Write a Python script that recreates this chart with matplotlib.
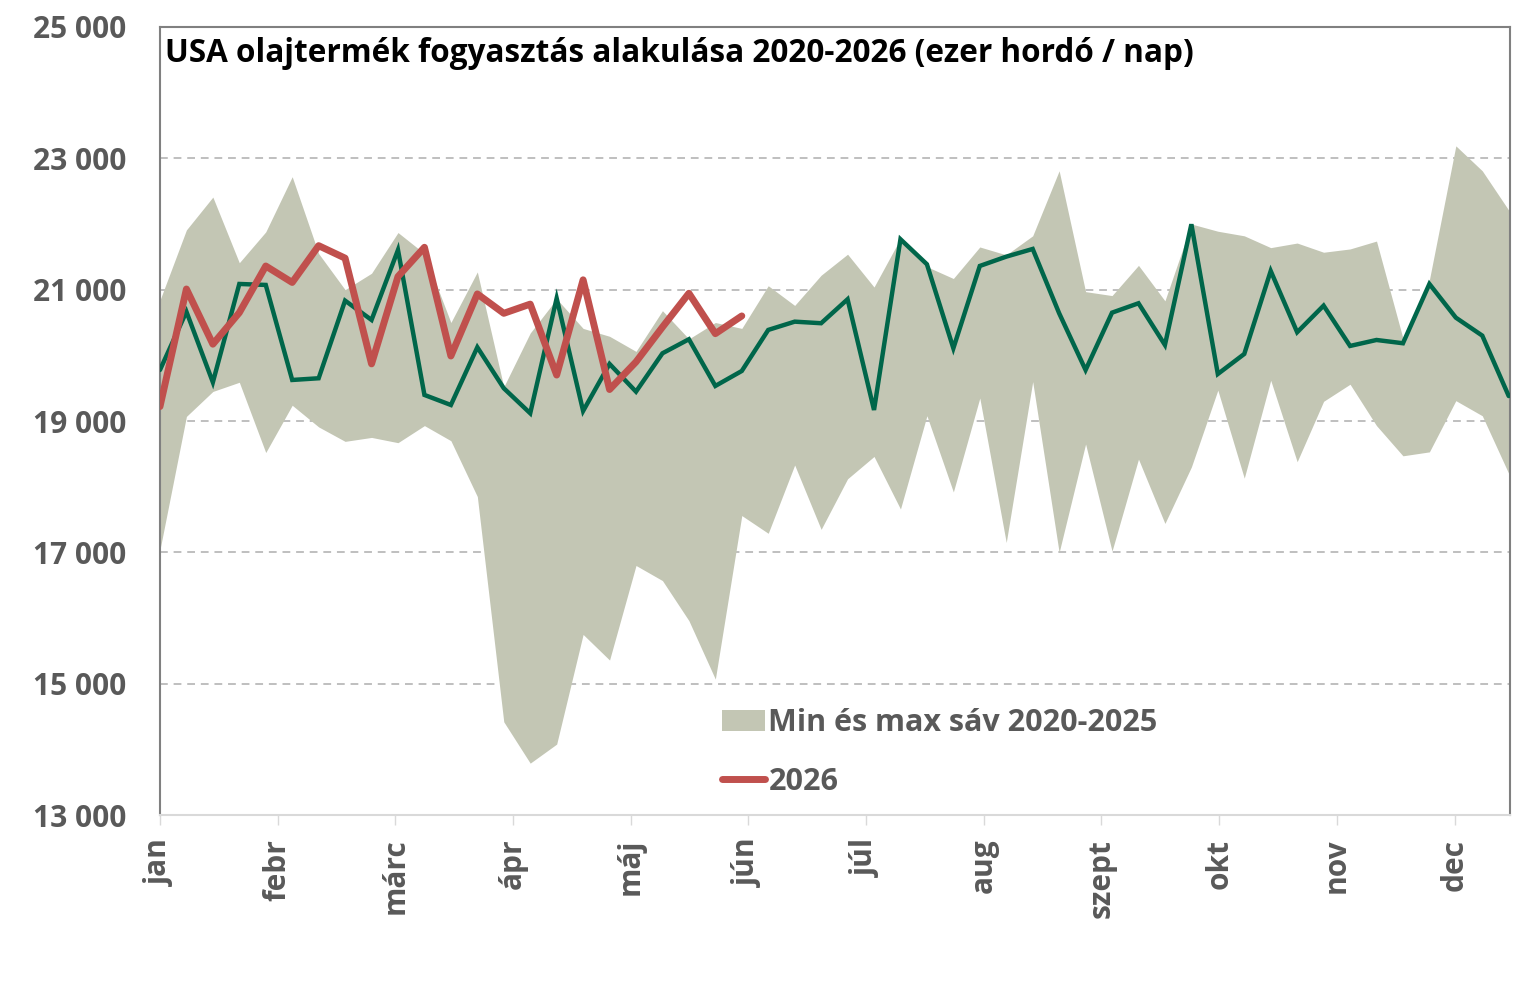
import numpy as np
import matplotlib
matplotlib.use("Agg")
import matplotlib.pyplot as plt
from matplotlib.patches import Patch
from matplotlib.lines import Line2D

plt.rcParams['font.family'] = ['Open Sans', 'DejaVu Sans']

# Heti adatok (ezer hordó / nap), 52 hét
band_max = [20840, 21910, 22410, 21410, 21880, 22720, 21550, 21000, 21250, 21870,
            21550, 20500, 21270, 19520, 20340, 20860, 20410, 20290, 20060, 20680,
            20250, 20500, 20410, 21060, 20760, 21220, 21540, 21040, 21780, 21350,
            21170, 21650, 21530, 21820, 22810, 20970, 20910, 21370, 20830, 22000,
            21890, 21820, 21640, 21710, 21570, 21620, 21740, 20260, 21150, 23190,
            22810, 22210]
band_min = [17040, 19070, 19450, 19590, 18520, 19240, 18910, 18690, 18750, 18670,
            18930, 18700, 17850, 14420, 13790, 14080, 15750, 15360, 16800, 16570,
            15960, 15070, 17560, 17290, 18330, 17350, 18120, 18460, 17660, 19080,
            17920, 19350, 17150, 19600, 17000, 18650, 17020, 18420, 17440, 18300,
            19470, 18130, 19620, 18380, 19300, 19560, 18930, 18470, 18530, 19310,
            19080, 18200]
line_green = [19777, 20665, 19590, 21087, 21072, 19625, 19651, 20833, 20539, 21605,
              19397, 19244, 20123, 19499, 19118, 20869, 19153, 19869, 19447, 20031,
              20245, 19534, 19762, 20387, 20513, 20489, 20854, 19168, 21768, 21387,
              20108, 21361, 21503, 21620, 20641, 19777, 20650, 20793, 20158, 21996,
              19716, 20021, 21285, 20352, 20757, 20143, 20234, 20184, 21087, 20574,
              20300, 19380]
line_2026 = [19220, 21010, 20170, 20650, 21360, 21110, 21670, 21480, 19870, 21200,
             21645, 19990, 20935, 20640, 20780, 19700, 21150, 19480, 19900, 20430,
             20945, 20330, 20600]
months = ['jan', 'febr', 'márc', 'ápr', 'máj', 'jún', 'júl', 'aug', 'szept', 'okt', 'nov', 'dec']
yticks = [13000, 15000, 17000, 19000, 21000, 23000, 25000]

weeks = np.arange(len(band_max))
weeks_2026 = np.arange(len(line_2026))

band_color = '#C3C6B4'
green_color = '#00664A'
red_color = '#C0504D'
label_color = '#595959'

fig = plt.figure(figsize=(15.25, 9.96), dpi=100)
ax = fig.add_axes([0.1049, 0.1817, 0.8853, 0.7912])

ax.fill_between(weeks, band_min, band_max, color=band_color, linewidth=0, zorder=2)
ax.plot(weeks, line_green, color=green_color, linewidth=3.2, zorder=3,
        solid_joinstyle='miter', solid_capstyle='round')
ax.plot(weeks_2026, line_2026, color=red_color, linewidth=5, zorder=4,
        solid_joinstyle='round', solid_capstyle='round')

ax.set_ylim(13000, 25000)
ax.set_xlim(0, 51.05)
ax.set_yticks(yticks)
ax.set_yticklabels([f"{v:,}".replace(',', ' ') for v in yticks])
ax.yaxis.grid(True, color='#BFBFBF', linestyle=(0, (4, 3)), linewidth=1.4, zorder=1)
ax.set_axisbelow(True)

tick_pos = np.arange(len(months)) * 4.45
ax.set_xticks(tick_pos)
ax.set_xticklabels(months, rotation=90, va='top', ha='center')

for lbl in ax.get_yticklabels() + ax.get_xticklabels():
    lbl.set_fontweight('bold')
    lbl.set_color(label_color)
    lbl.set_fontsize(21.5)
ax.tick_params(axis='y', length=0, pad=24)
ax.tick_params(axis='x', length=7, width=1, color='#D9D9D9', pad=10)

for side in ['left', 'top', 'right']:
    ax.spines[side].set_color('#808080')
    ax.spines[side].set_linewidth(1.5)
ax.spines['bottom'].set_color('#D9D9D9')
ax.spines['bottom'].set_linewidth(1.5)

ax.text(0.004, 0.987, 'USA olajtermék fogyasztás alakulása 2020-2026 (ezer hordó / nap)',
        transform=ax.transAxes, ha='left', va='top', fontsize=22.7,
        fontweight='bold', color='black')

handles = [Patch(facecolor=band_color, edgecolor='none'),
           Line2D([0], [0], color=red_color, linewidth=5, solid_capstyle='round')]
ax.legend(handles, ['Min és max sáv 2020-2025', '2026'], loc='upper left',
          bbox_to_anchor=(0.405, 0.155), frameon=False, borderpad=0,
          handlelength=1.4, handletextpad=0.12, labelspacing=0.95,
          prop={'weight': 'bold', 'size': 22}, labelcolor=label_color)

fig.savefig('out.png', dpi=100)
